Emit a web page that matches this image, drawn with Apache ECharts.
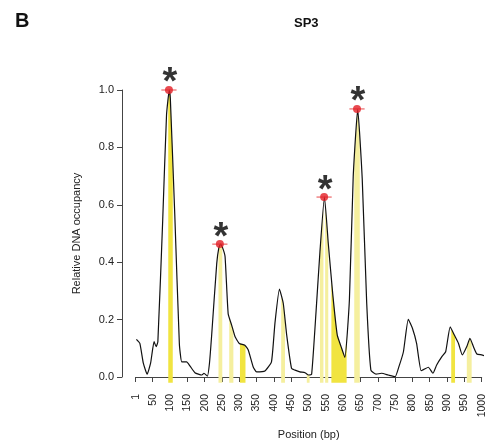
<!DOCTYPE html>
<html>
<head>
<meta charset="utf-8">
<script src="https://cdn.jsdelivr.net/npm/echarts@6/dist/echarts.min.js"></script>
<style>
html,body{margin:0;padding:0;background:#fff;}
#chart{width:489px;height:448px;}
</style>
</head>
<body>
<div id="chart"></div>
<script>
// Curve: position (bp) and relative DNA occupancy
const positions = [3, 13, 23, 34, 44, 54, 60, 65, 79, 90, 98, 101, 114, 127, 134, 148, 158, 172, 192, 198, 208, 214, 220, 235, 241, 246, 252, 259, 268, 278, 288, 300, 316, 326, 340, 350, 374, 393, 403, 416, 427, 437, 451, 461, 475, 490, 500, 509, 522, 533, 546, 557, 570, 583, 594, 605, 618, 629, 642, 655, 668, 680, 695, 711, 730, 750, 761, 774, 788, 800, 812, 825, 834, 846, 859, 870, 885, 896, 909, 921, 933, 944, 957, 966, 976, 986, 1000, 1014];
const occupancy = [0.131, 0.117, 0.048, 0.01, 0.048, 0.123, 0.106, 0.123, 0.547, 0.913, 1.0, 0.97, 0.56, 0.117, 0.053, 0.053, 0.038, 0.015, 0.007, 0.013, 0.003, 0.048, 0.14, 0.396, 0.45, 0.463, 0.45, 0.42, 0.22, 0.181, 0.14, 0.117, 0.111, 0.094, 0.036, 0.018, 0.021, 0.053, 0.187, 0.306, 0.257, 0.146, 0.03, 0.024, 0.018, 0.015, 0.007, 0.01, 0.233, 0.437, 0.628, 0.466, 0.288, 0.146, 0.106, 0.068, 0.268, 0.698, 0.933, 0.692, 0.257, 0.024, 0.01, 0.013, 0.007, 0.001, 0.036, 0.088, 0.201, 0.17, 0.117, 0.022, 0.027, 0.034, 0.013, 0.042, 0.071, 0.088, 0.175, 0.146, 0.117, 0.077, 0.106, 0.135, 0.106, 0.08, 0.077, 0.072];

// Highlighted (yellow) regions
const stripStart = [95, 240, 271, 302, 421, 495, 533, 548, 566, 632, 912, 957];
const stripEnd   = [108, 251, 283, 318, 432, 503, 543, 557, 610, 648, 923, 971];
const stripTone  = [1, 0, 0, 1, 0, 0, 0, 0, 1, 0, 1, 0]; // 1 = strong, 0 = pale

// Peaks (red points with error bars, starred)
const peakPos = [97, 244, 545, 640];
const peakVal = [1.0, 0.463, 0.627, 0.934];
const peakErr = [22, 22, 22, 22];

// Axis ticks
const xTicks = [1, 50, 100, 150, 200, 250, 300, 350, 400, 450, 500, 550, 600, 650, 700, 750, 800, 850, 900, 950, 1000];

const FONT = '"Liberation Sans", Arial, Helvetica, sans-serif';
const STRIP_BASE = -0.02;

function curveAt(x) {
  if (x <= positions[0]) return occupancy[0];
  for (let i = 1; i < positions.length; i++) {
    if (x <= positions[i]) {
      const t = (x - positions[i - 1]) / (positions[i] - positions[i - 1]);
      return occupancy[i - 1] + t * (occupancy[i] - occupancy[i - 1]);
    }
  }
  return occupancy[occupancy.length - 1];
}

const chart = echarts.init(document.getElementById('chart'), null, {renderer: 'canvas'});

const option = {
  animation: false,
  backgroundColor: '#ffffff',
  title: [
    {text: 'B', left: 10, top: 6, textStyle: {fontFamily: FONT, fontSize: 20, fontWeight: 'bold', color: '#111'}},
    {text: 'SP3', left: 289, top: 12, textStyle: {fontFamily: FONT, fontSize: 13, fontWeight: 'bold', color: '#111'}}
  ],
  grid: {left: 135.7, right: 7.3, top: 90, bottom: 71, containLabel: false},
  xAxis: {
    type: 'value', min: 1, max: 1000, offset: 12,
    name: 'Position (bp)', nameLocation: 'middle', nameGap: 40,
    nameTextStyle: {fontFamily: FONT, fontSize: 11, color: '#222'},
    axisLine: {show: true, lineStyle: {color: '#444', width: 1}},
    axisTick: {show: true, length: 5, lineStyle: {color: '#444'}, customValues: xTicks},
    axisLabel: {show: true, rotate: 90, margin: 5, fontFamily: FONT, fontSize: 10.5, color: '#222', customValues: xTicks, formatter: v => String(v)},
    splitLine: {show: false}
  },
  yAxis: {
    type: 'value', min: 0, max: 1, interval: 0.2, offset: 13.7,
    name: 'Relative DNA occupancy', nameLocation: 'middle', nameGap: 40,
    nameTextStyle: {fontFamily: FONT, fontSize: 11, color: '#222'},
    axisLine: {show: true, lineStyle: {color: '#444', width: 1}},
    axisTick: {show: true, length: 5, lineStyle: {color: '#444'}},
    axisLabel: {show: true, margin: 8, fontFamily: FONT, fontSize: 11, color: '#222', formatter: v => v.toFixed(1)},
    splitLine: {show: false}
  },
  series: [
    {
      type: 'custom', z: 1, clip: false,
      data: stripStart.map((s, i) => [s, stripEnd[i], stripTone[i]]),
      renderItem: function (params, api) {
        const s = api.value(0), e = api.value(1), tone = api.value(2);
        const pts = [api.coord([s, STRIP_BASE]), api.coord([s, curveAt(s)])];
        for (let i = 0; i < positions.length; i++) {
          if (positions[i] > s && positions[i] < e) pts.push(api.coord([positions[i], occupancy[i]]));
        }
        pts.push(api.coord([e, curveAt(e)]));
        pts.push(api.coord([e, STRIP_BASE]));
        return {type: 'polygon', shape: {points: pts}, style: {fill: tone ? '#f1e440' : '#f5ef9e'}};
      }
    },
    {
      type: 'line', z: 3, clip: false, smooth: 0.15,
      data: positions.map((p, i) => [p, occupancy[i]]),
      showSymbol: false, symbol: 'none',
      lineStyle: {color: '#111', width: 1.2}
    },
    {
      type: 'custom', z: 4, clip: false,
      data: peakPos.map((p, i) => [p, peakVal[i], peakErr[i]]),
      renderItem: function (params, api) {
        const x = api.value(0), y = api.value(1), er = api.value(2);
        const a = api.coord([x - er, y]), b = api.coord([x + er, y]);
        return {type: 'line', shape: {x1: a[0], y1: a[1], x2: b[0], y2: b[1]}, style: {stroke: '#e8484a', lineWidth: 1}};
      }
    },
    {
      type: 'scatter', z: 5, clip: false,
      data: peakPos.map((p, i) => [p, peakVal[i]]),
      symbol: 'circle', symbolSize: 8,
      itemStyle: {color: '#e21e26'},
      label: {show: true, position: 'inside', offset: [1, -6], formatter: '*', fontFamily: FONT, fontSize: 38, fontWeight: 'bold', color: '#000'}
    }
  ]
};
chart.setOption(option);
</script>
</body>
</html>
